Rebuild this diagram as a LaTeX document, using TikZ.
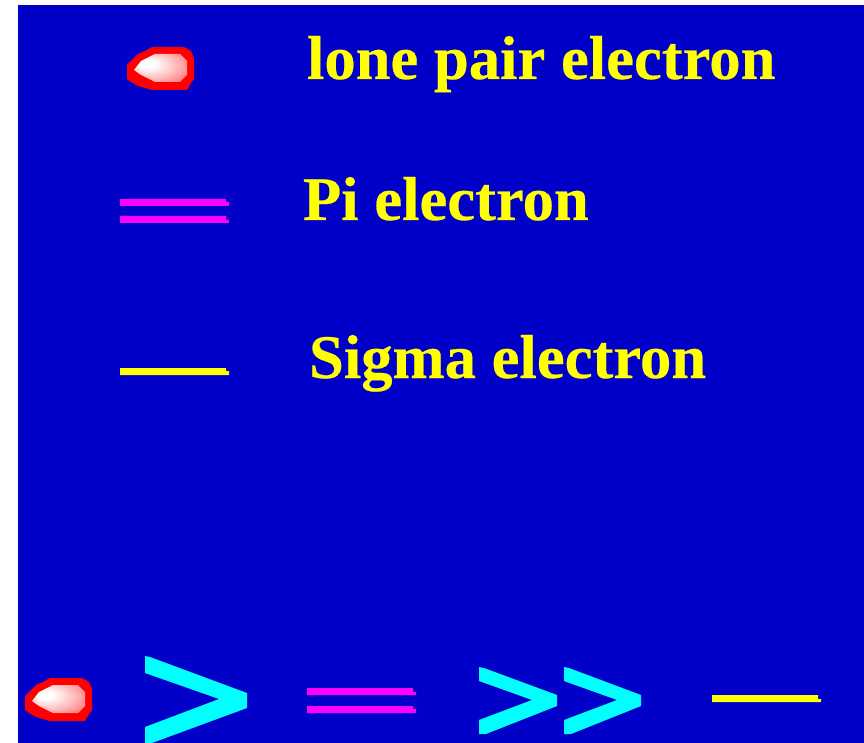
\documentclass[tikz,border=0pt]{standalone}
\usepackage{fontspec}
\setmainfont[FakeBold=0.4,FakeStretch=1.01]{Liberation Serif}
\definecolor{bgblue}{RGB}{0,0,200}
\definecolor{pureyellow}{RGB}{255,255,0}
\definecolor{puremagenta}{RGB}{255,0,255}
\definecolor{purecyan}{RGB}{0,255,255}
\definecolor{purered}{RGB}{255,0,0}
\pgfdeclareradialshading{blobglow}{\pgfpoint{-14bp}{8bp}}{rgb(0bp)=(1,1,1);rgb(7bp)=(1,1,1);rgb(24bp)=(1,0.72,0.72);rgb(46bp)=(1,0.3,0.3);rgb(60bp)=(1,0,0)}
\tikzset{
  legendtext/.style={anchor=base west,inner sep=0pt,outer sep=0pt,text=pureyellow,font=\fontsize{62}{62}\selectfont\bfseries},
  barmagenta/.style={fill=puremagenta},
  baryellow/.style={fill=pureyellow},
  chevron/.style={fill=purecyan},
  pics/loneblob/.style={code={
    \fill[purered] (0,18)--(4,14)--(7,11)--(11,7)--(18,4)--(25,0)--(57,0)--(64,4)--(67,11)--(67,32)--(64,36)--(60,43)--(25,43)--(11,39)--(4,35)--(0,32)--cycle;
    \path[shading=blobglow] (7,23)--(14,14)--(28,7)--(53,7)--(60,14)--(60,28)--(53,35)--(28,35)--(14,28)--cycle;
  }}
}
% bar with the small stepped right end: x-left, x-right, y-top, y-step, y-bottom
\newcommand{\stepbar}[6]{\fill[#1] (#2,#4)--(#3,#4)--(#3,#5)--(#3+3,#5)--(#3+3,#6)--(#2,#6)--cycle;}
\begin{document}
\begin{tikzpicture}[x=1pt,y=-1pt]
\useasboundingbox (0,0) rectangle (864,743);
\fill[white] (0,0) rectangle (864,743);
\fill[bgblue] (18,5) rectangle (864,743);
% legend
\pic at (127,47) {loneblob};
\node[legendtext] (lonepair) at (307,79) {lone pair electron};
\stepbar{barmagenta}{120}{226}{199}{202}{206}
\stepbar{barmagenta}{120}{226}{216}{220}{223}
\node[legendtext] (pielec) at (303,220) {Pi electron};
\stepbar{baryellow}{120}{226}{368}{371}{375}
\node[legendtext] (sigmaelec) at (309,378) {Sigma electron};
% order row
\pic at (25,678) {loneblob};
\fill[chevron] (145,656)--(150,657)--(247,693)--(247,708)--(152,743)--(145,743)--(145,727)--(219,699)--(145,673)--cycle;
\stepbar{barmagenta}{307}{413}{688}{692}{695}
\stepbar{barmagenta}{307}{413}{706}{709}{713}
\fill[chevron] (479,667)--(484,668)--(557,695)--(557,706)--(486,734)--(479,734)--(479,720)--(532,700)--(479,681)--cycle;
\fill[chevron] (564,667)--(569,668)--(641,695)--(641,706)--(571,734)--(564,734)--(564,720)--(617,700)--(564,681)--cycle;
\stepbar{baryellow}{712}{818}{695}{699}{702}
\end{tikzpicture}
\end{document}
